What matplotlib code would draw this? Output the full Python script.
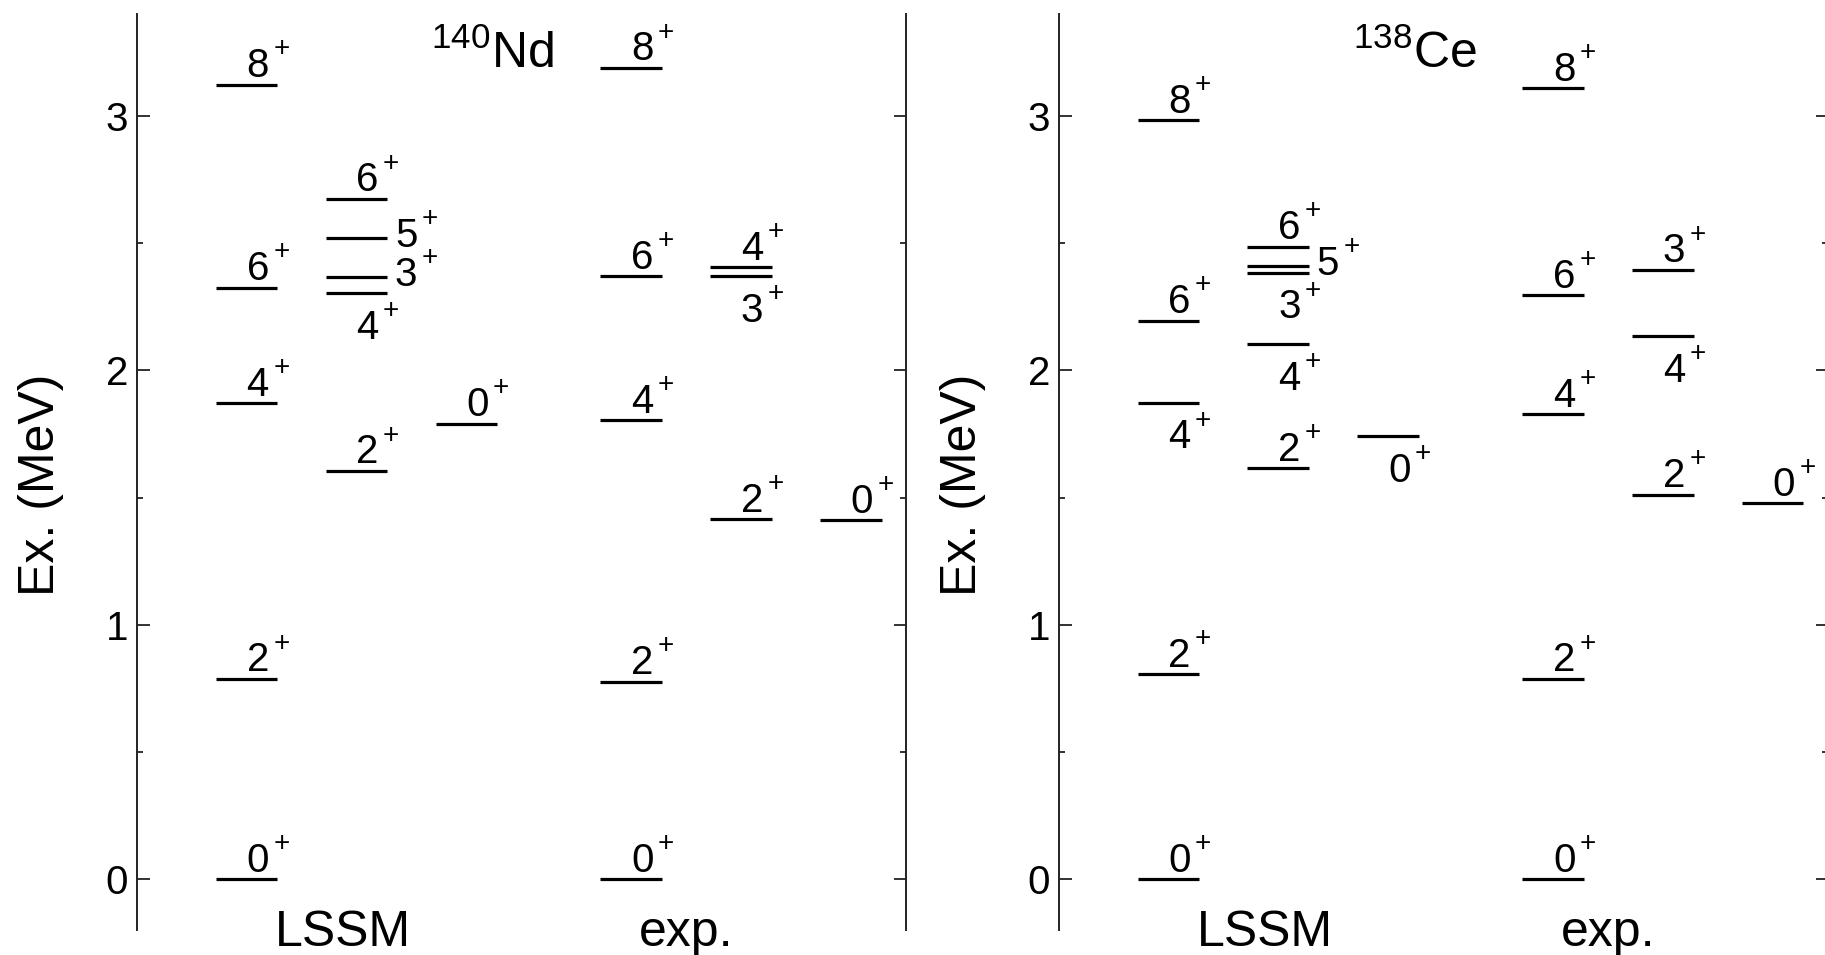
import matplotlib
matplotlib.use("Agg")
import matplotlib.pyplot as plt
from matplotlib.ticker import MultipleLocator
from matplotlib.transforms import offset_copy

plt.rcParams["font.family"] = ["Liberation Sans", "DejaVu Sans"]

# level energies (MeV) and spins, one inner list per column
# 140Nd
nd_lssm_E = [[0.0, 0.787, 1.871, 2.325, 3.123],
             [1.605, 2.304, 2.369, 2.521, 2.674],
             [1.791]]
nd_lssm_J = [[0, 2, 4, 6, 8], [2, 4, 3, 5, 6], [0]]
nd_exp_E = [[0.0, 0.776, 1.804, 2.370, 3.189],
            [1.415, 2.372, 2.405],
            [1.411]]
nd_exp_J = [[0, 2, 4, 6, 8], [2, 3, 4], [0]]

# 138Ce
ce_lssm_E = [[0.0, 0.806, 1.874, 2.195, 2.983],
             [1.616, 2.103, 2.385, 2.411, 2.487],
             [1.743]]
ce_lssm_J = [[0, 2, 4, 6, 8], [2, 4, 3, 5, 6], [0]]
ce_exp_E = [[0.0, 0.787, 1.828, 2.296, 3.109],
            [1.511, 2.136, 2.395],
            [1.478]]
ce_exp_J = [[0, 2, 4, 6, 8], [2, 4, 3], [0]]

# where each spin label goes: a = above, b = below, r = right of the level
nd_lssm_side = [["a"] * 5, ["a", "b", "r", "r", "a"], ["a"]]
nd_exp_side = [["a"] * 5, ["a", "b", "a"], ["a"]]
ce_lssm_side = [["a", "a", "b", "a", "a"], ["a", "b", "b", "r", "a"], ["b"]]
ce_exp_side = [["a"] * 5, ["a", "b", "a"], ["a"]]

nuclei = [
    ("140", "Nd", nd_lssm_E, nd_lssm_J, nd_lssm_side, nd_exp_E, nd_exp_J, nd_exp_side),
    ("138", "Ce", ce_lssm_E, ce_lssm_J, ce_lssm_side, ce_exp_E, ce_exp_J, ce_exp_side),
]

lssm_x = [1.0, 2.0, 3.0]
exp_x = [4.5, 5.5, 6.5]
half_w = 0.28
lab_fs = 29
plus_fs = 20


def spin_label(ax, x, y, j):
    # digit on the baseline, parity sign raised to the upper right
    ax.text(x, y, str(j), fontsize=lab_fs, ha="left", va="baseline")
    tr = offset_copy(ax.transData, fig=ax.figure, x=25, y=15, units="points")
    ax.text(x, y, "+", fontsize=plus_fs, ha="center", va="baseline", transform=tr)


def draw_levels(ax, xs, energies, spins, sides):
    for x, col_E, col_J, col_s in zip(xs, energies, spins, sides):
        for e, j, s in zip(col_E, col_J, col_s):
            ax.plot([x - half_w, x + half_w], [e, e], color="black",
                    lw=2.3, solid_capstyle="butt")
            if s == "a":
                spin_label(ax, x, e + 0.03, j)
            elif s == "b":
                spin_label(ax, x, e - 0.18, j)
            else:
                spin_label(ax, x + 0.35, e - 0.035, j)


fig = plt.figure(figsize=(18.25, 9.55), dpi=100)
lefts = [0.0749, 0.58]

for left, (mass, elem, lE, lJ, lS, eE, eJ, eS) in zip(lefts, nuclei):
    ax = fig.add_axes([left, 0.026, 0.4214, 0.959])
    ax.set_xlim(0, 7)
    ax.set_ylim(-0.2, 3.4)

    draw_levels(ax, lssm_x, lE, lJ, lS)
    draw_levels(ax, exp_x, eE, eJ, eS)

    for side in ["top", "bottom"]:
        ax.spines[side].set_visible(False)
    for side in ["left", "right"]:
        ax.spines[side].set_linewidth(1.4)
        ax.spines[side].set_color("#222222")

    ax.set_xticks([])
    ax.yaxis.set_major_locator(MultipleLocator(1))
    ax.yaxis.set_minor_locator(MultipleLocator(0.5))
    ax.tick_params(axis="y", which="both", direction="in", left=True, right=True,
                   labelleft=True, labelright=False, width=1.3, color="#222222")
    ax.tick_params(axis="y", which="major", length=9, pad=6, labelsize=29)
    ax.tick_params(axis="y", which="minor", length=4.5)

    ax.text(-0.124, 0.486, "Ex. (MeV)", transform=ax.transAxes, rotation=90,
            ha="center", va="center", fontsize=36)
    ax.text(2.68, 3.19, r"$\mathregular{^{%s}%s}$" % (mass, elem), fontsize=36,
            ha="left", va="baseline")
    ax.text(1.88, -0.262, "LSSM", fontsize=36, ha="center", va="baseline", clip_on=False)
    ax.text(5.0, -0.262, "exp.", fontsize=36, ha="center", va="baseline", clip_on=False)

fig.savefig("out.png", dpi=100)
